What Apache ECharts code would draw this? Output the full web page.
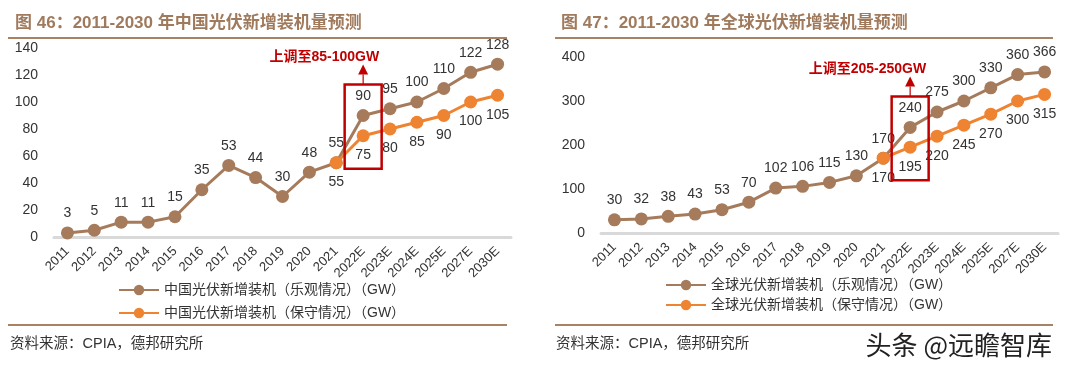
<!DOCTYPE html>
<html><head><meta charset="utf-8">
<script src="https://cdn.jsdelivr.net/npm/echarts@6/dist/echarts.min.js"></script>
<style>html,body{margin:0;padding:0;background:#fff}#c{width:1080px;height:369px}</style>
</head><body><div id="c"></div>
<script>
const categories = ['2011','2012','2013','2014','2015','2016','2017','2018','2019','2020','2021','2022E','2023E','2024E','2025E','2027E','2030E'];
const cnOptimistic = [3,5,11,11,15,35,53,44,30,48,55,90,95,100,110,122,128];
const cnConservative = [null,null,null,null,null,null,null,null,null,null,55,75,80,85,90,100,105];
const glOptimistic = [30,32,38,43,53,70,102,106,115,130,170,240,275,300,330,360,366];
const glConservative = [null,null,null,null,null,null,null,null,null,null,170,195,220,245,270,300,315];
const cnAxis = {min:0, max:140, interval:20};
const glAxis = {min:0, max:400, interval:100};
const titles = ['图 46：2011-2030 年中国光伏新增装机量预测','图 47：2011-2030 年全球光伏新增装机量预测'];
const seriesNames = ['中国光伏新增装机（乐观情况）（GW）','中国光伏新增装机（保守情况）（GW）','全球光伏新增装机（乐观情况）（GW）','全球光伏新增装机（保守情况）（GW）'];
const notes = ['上调至85-100GW','上调至205-250GW'];
const highlightCategory = '2022E';
const sourceText = '资料来源：CPIA，德邦研究所';
const watermark = '头条 @远瞻智库';

const BROWN = '#A57B5C', ORANGE = '#EE8432', RULE = '#A98163', RED = '#C00000', TXT = '#333';
const NUM_FONT = '"Liberation Sans", Arial, "Noto Sans CJK SC", sans-serif';
const CJK_FONT = '"Liberation Sans", "Noto Sans CJK SC", sans-serif';

const chart = echarts.init(document.getElementById('c'), null, {renderer:'canvas'});

function xAx(i){return {type:'category', gridIndex:i, data:categories, boundaryGap:true,
  axisLine:{show:true, lineStyle:{color:'#D9D9D9', width:3}}, axisTick:{show:false},
  axisLabel:{rotate:45, margin:12, fontSize:13, color:TXT, fontFamily:NUM_FONT, interval:0}};}
function yAx(i, a){return {type:'value', gridIndex:i, min:a.min, max:a.max, interval:a.interval,
  axisLine:{show:false}, axisTick:{show:false}, splitLine:{show:false},
  axisLabel:{fontSize:14, color:TXT, fontFamily:NUM_FONT, margin:16}};}
function ser(name, data, color, i, pos){return {name, type:'line', xAxisIndex:i, yAxisIndex:i, data,
  symbol:'circle', symbolSize:13, lineStyle:{color, width:3}, itemStyle:{color},
  connectNulls:false,
  label:{show:true, position:pos, distance:6, fontSize:14, color:TXT, fontFamily:NUM_FONT}};}

chart.setOption({
  animation:false,
  title:[
    {text:titles[0], left:10, top:10, textStyle:{fontSize:17, fontWeight:'bold', color:'#A07A5C', fontFamily:CJK_FONT}},
    {text:titles[1], left:556, top:10, textStyle:{fontSize:17, fontWeight:'bold', color:'#A07A5C', fontFamily:CJK_FONT}}
  ],
  grid:[
    {left:54, right:569, top:48, bottom:132},
    {left:601, right:22, top:57, bottom:136}
  ],
  xAxis:[xAx(0), xAx(1)],
  yAxis:[yAx(0, cnAxis), yAx(1, glAxis)],
  legend:[
    {data:[seriesNames[0], seriesNames[1]], orient:'vertical', left:113, top:278, itemGap:9, itemWidth:40, itemHeight:13,
     textStyle:{fontSize:14, color:TXT, fontFamily:CJK_FONT}},
    {data:[seriesNames[2], seriesNames[3]], orient:'vertical', left:660, top:273, itemGap:6, itemWidth:40, itemHeight:13,
     textStyle:{fontSize:14, color:TXT, fontFamily:CJK_FONT}}
  ],
  series:[
    ser(seriesNames[0], cnOptimistic, BROWN, 0, 'top'),
    ser(seriesNames[1], cnConservative, ORANGE, 0, 'bottom'),
    ser(seriesNames[2], glOptimistic, BROWN, 1, 'top'),
    ser(seriesNames[3], glConservative, ORANGE, 1, 'bottom')
  ]
});

const hi = categories.indexOf(highlightCategory);
const g = [];
function annot(optIdx, consIdx, optData, consData, note){
  const pTop = chart.convertToPixel({seriesIndex:optIdx}, [hi, optData[hi]]);
  const pBot = chart.convertToPixel({seriesIndex:consIdx}, [hi, consData[hi]]);
  const x = pTop[0];
  const top = pTop[1] - 31, bot = pBot[1] + 33;
  g.push({type:'rect', shape:{x:x-18.5, y:top, width:37, height:bot-top}, style:{fill:null, stroke:RED, lineWidth:2.5}, z:100});
  g.push({type:'line', shape:{x1:x, y1:top, x2:x, y2:top-10}, style:{stroke:RED, lineWidth:1.2}, z:100});
  g.push({type:'polygon', shape:{points:[[x-5,top-10],[x+5,top-10],[x,top-20]]}, style:{fill:RED}, z:100});
  g.push({type:'text', x:x+16, y:top-27, style:{text:note, fill:RED, font:'bold 14px '+CJK_FONT, textAlign:'right', textVerticalAlign:'middle'}, z:100});
}
annot(0, 1, cnOptimistic, cnConservative, notes[0]);
annot(2, 3, glOptimistic, glConservative, notes[1]);

// rules
g.push({type:'line', shape:{x1:8, y1:38, x2:507, y2:38}, style:{stroke:RULE, lineWidth:2}});
g.push({type:'line', shape:{x1:555, y1:38, x2:1053, y2:38}, style:{stroke:RULE, lineWidth:2}});
g.push({type:'line', shape:{x1:8, y1:325, x2:507, y2:325}, style:{stroke:RULE, lineWidth:2}});
g.push({type:'line', shape:{x1:555, y1:325, x2:1053, y2:325}, style:{stroke:RULE, lineWidth:2}});
g.push({type:'text', x:10, y:344, style:{text:sourceText, fill:TXT, font:'14.5px '+CJK_FONT, textVerticalAlign:'middle'}});
g.push({type:'text', x:556, y:344, style:{text:sourceText, fill:TXT, font:'14.5px '+CJK_FONT, textVerticalAlign:'middle'}});
g.push({type:'text', x:1052, y:345, style:{text:watermark, fill:'#222', font:'26px "Noto Sans CJK SC", sans-serif', textAlign:'right', textVerticalAlign:'middle'}});

chart.setOption({graphic:g});
</script></body></html>
